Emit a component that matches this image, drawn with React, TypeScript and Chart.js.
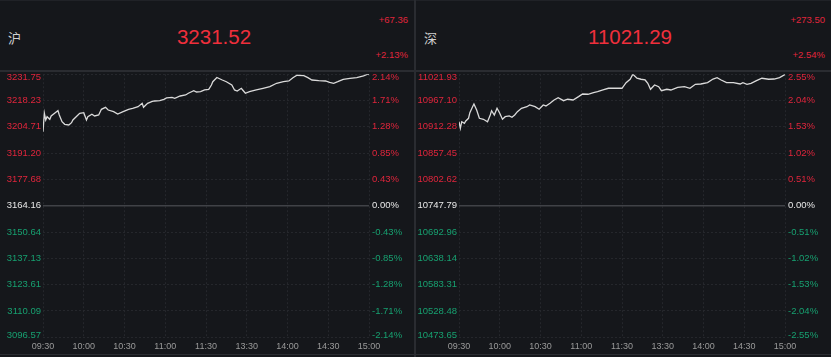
import React, { useEffect, useRef } from "react";
import { Chart, registerables } from "chart.js";
Chart.register(...registerables);

// ---- data ----
const timeLabels = ["09:30", "10:00", "10:30", "11:00", "11:30", "13:30", "14:00", "14:30", "15:00"];

const shName = "沪";
const shPrice = "3231.52";
const shChange = "+67.36";
const shChangePct = "+2.13%";
const shPrevClose = 3164.16;
const shPriceTicks = [3096.57, 3110.09, 3123.61, 3137.13, 3150.64, 3164.16, 3177.68, 3191.2, 3204.71, 3218.23, 3231.75];
const shPctTicks = ["-2.14%", "-1.71%", "-1.28%", "-0.85%", "-0.43%", "0.00%", "0.43%", "0.85%", "1.28%", "1.71%", "2.14%"];
const shMinutes = [0, 1, 2, 3, 5, 6, 9, 11, 12, 14, 16, 19, 21, 22, 25, 27, 30, 32, 33, 36, 38, 41, 43, 46, 48, 52, 55, 59, 63, 66, 70, 73, 74, 77, 80, 82, 86, 89, 91, 95, 97, 101, 105, 107, 111, 113, 116, 119, 122, 124, 125, 128, 132, 135, 139, 141, 143, 146, 147, 149, 152, 157, 162, 167, 172, 177, 181, 184, 187, 192, 195, 198, 203, 208, 211, 214, 217, 221, 226, 231, 236, 239, 240];
const shValues = [3202.2, 3211.66, 3208.22, 3209.91, 3208.57, 3210.27, 3211.96, 3213.0, 3210.78, 3207.34, 3206.0, 3205.64, 3206.82, 3208.22, 3210.27, 3211.66, 3211.96, 3208.22, 3209.91, 3211.14, 3210.27, 3210.78, 3213.71, 3214.74, 3213.35, 3212.47, 3211.29, 3212.47, 3213.71, 3214.22, 3215.05, 3216.79, 3214.74, 3216.79, 3217.62, 3217.98, 3218.13, 3218.86, 3219.53, 3219.88, 3219.37, 3220.55, 3221.06, 3221.94, 3223.27, 3222.6, 3222.76, 3223.64, 3223.99, 3226.2, 3227.89, 3230.06, 3228.77, 3227.89, 3226.2, 3223.64, 3223.11, 3224.5, 3223.64, 3221.94, 3222.76, 3223.64, 3224.5, 3225.33, 3227.08, 3227.89, 3228.26, 3229.96, 3231.2, 3231.0, 3229.96, 3228.77, 3228.41, 3228.26, 3227.59, 3227.08, 3227.89, 3229.13, 3229.64, 3229.96, 3230.9, 3231.75, 3231.52];

const szName = "深";
const szPrice = "11021.29";
const szChange = "+273.50";
const szChangePct = "+2.54%";
const szPrevClose = 10747.79;
const szPriceTicks = [10473.65, 10528.48, 10583.31, 10638.14, 10692.96, 10747.79, 10802.62, 10857.45, 10912.28, 10967.1, 11021.93];
const szPctTicks = ["-2.55%", "-2.04%", "-1.53%", "-1.02%", "-0.51%", "0.00%", "0.51%", "1.02%", "1.53%", "2.04%", "2.55%"];
const szMinutes = [0, 1, 2, 4, 5, 7, 8, 10, 11, 13, 15, 18, 21, 23, 24, 26, 28, 30, 32, 34, 37, 39, 41, 43, 46, 50, 52, 56, 59, 62, 64, 67, 70, 73, 77, 80, 84, 88, 91, 95, 99, 102, 106, 110, 115, 120, 123, 126, 128, 131, 134, 137, 139, 141, 144, 147, 149, 153, 156, 161, 166, 170, 174, 178, 183, 187, 190, 193, 197, 202, 207, 209, 212, 215, 219, 223, 228, 232, 236, 240];
const szValues = [10922.9, 10909.2, 10922.9, 10919.6, 10924.4, 10930.0, 10941.7, 10954.2, 10959.8, 10947.3, 10930.0, 10928.0, 10922.9, 10936.9, 10945.9, 10936.9, 10950.9, 10940.4, 10928.0, 10933.4, 10934.9, 10932.1, 10936.9, 10943.8, 10950.9, 10954.2, 10957.8, 10954.2, 10948.8, 10957.8, 10955.7, 10961.3, 10968.2, 10973.0, 10966.7, 10969.7, 10968.2, 10975.1, 10980.7, 10980.1, 10983.4, 10985.5, 10989.0, 10992.6, 10992.6, 10992.6, 11004.3, 11011.4, 11021.93, 11013.5, 11011.4, 11009.9, 11003.0, 10990.5, 10999.5, 10995.9, 10987.6, 10990.5, 10989.0, 10994.6, 10995.9, 10992.6, 11000.9, 11001.5, 11004.3, 11011.9, 11014.7, 11009.9, 11004.3, 11004.3, 11001.5, 11004.3, 11000.9, 11003.0, 11008.4, 11013.5, 11011.4, 11011.9, 11014.7, 11021.29];

// ---- style ----
const BG = "#15171b";
const SEP = "#2a2c31";
const GRID = "#25272c";
const ZERO_LINE = "#404247";
const RED = "#e0253c";
const HEAD_RED = "#ef2f3c";
const GREEN = "#17a070";
const WHITE = "#e8e8e8";
const FONT = '"Liberation Sans", Arial, Helvetica, sans-serif';

const axisLabelPlugin = {
  id: "axisLabels",
  beforeDatasetsDraw(chart: any, _args: any, opts: any) {
    const { ctx, chartArea } = chart;
    const y = chart.scales.y.getPixelForValue(opts.prevClose);
    ctx.save();
    ctx.strokeStyle = ZERO_LINE;
    ctx.lineWidth = 1.5;
    ctx.beginPath();
    ctx.moveTo(chartArea.left, y);
    ctx.lineTo(chartArea.right, y);
    ctx.stroke();
    ctx.restore();
  },
  afterDraw(chart: any, _args: any, opts: any) {
    const { ctx, chartArea } = chart;
    const ys = chart.scales.y;
    const ticks: number[] = opts.priceTicks;
    const pct: string[] = opts.pctTicks;
    const zeroIdx = ticks.indexOf(opts.prevClose);
    ctx.save();
    ctx.font = `9.5px ${FONT}`;
    ctx.textBaseline = "middle";
    ticks.forEach((v, i) => {
      let py = ys.getPixelForValue(v);
      if (i === ticks.length - 1) py += 3;
      if (i === 0) py -= 2;
      ctx.fillStyle = i < zeroIdx ? GREEN : i === zeroIdx ? WHITE : RED;
      ctx.textAlign = "right";
      ctx.fillText(v.toFixed(2), chartArea.left - 2, py);
      ctx.textAlign = "left";
      ctx.fillText(pct[i], chartArea.right + 3, py);
    });
    ctx.restore();
  },
};

type PanelProps = {
  left: number;
  width: number;
  name: string;
  price: string;
  change: string;
  changePct: string;
  prevClose: number;
  priceTicks: number[];
  pctTicks: string[];
  minutes: number[];
  values: number[];
};

function Panel(p: PanelProps) {
  const ref = useRef<HTMLCanvasElement>(null);
  const canvasH = 282;
  useEffect(() => {
    if (!ref.current) return;
    const chart = new Chart(ref.current, {
      type: "line",
      data: {
        datasets: [
          {
            data: p.minutes.map((m, i) => ({ x: m, y: p.values[i] })),
            borderColor: "#dadada",
            borderWidth: 1.3,
            pointRadius: 0,
            tension: 0,
            fill: false,
          },
        ],
      },
      plugins: [axisLabelPlugin as any],
      options: {
        animation: false,
        responsive: false,
        events: [],
        layout: { padding: { top: 2.2, bottom: 0, left: 0, right: 0 } },
        plugins: {
          legend: { display: false },
          tooltip: { enabled: false },
          axisLabels: { priceTicks: p.priceTicks, pctTicks: p.pctTicks, prevClose: p.prevClose },
        } as any,
        scales: {
          x: {
            type: "linear",
            min: 0,
            max: 240,
            afterBuildTicks: (s: any) => {
              s.ticks = timeLabels.map((_, i) => ({ value: i * 30 }));
            },
            afterFit: (s: any) => {
              s.height = 16.8;
            },
            ticks: {
              autoSkip: false,
              maxRotation: 0,
              padding: 4,
              color: "#9a9a9a",
              font: { size: 9, family: FONT },
              callback: (_v: any, i: number) => timeLabels[i],
            },
            grid: { color: GRID, lineWidth: 1, drawTicks: false },
            border: { display: false, dash: [2, 2] },
          },
          y: {
            type: "linear",
            position: "left",
            min: p.priceTicks[0],
            max: p.priceTicks[p.priceTicks.length - 1],
            afterBuildTicks: (s: any) => {
              s.ticks = p.priceTicks.map((v) => ({ value: v }));
            },
            afterFit: (s: any) => {
              s.width = 43;
            },
            ticks: { display: false },
            grid: {
              color: (c: any) => (c.index === p.priceTicks.indexOf(p.prevClose) ? "rgba(0,0,0,0)" : GRID),
              lineWidth: 1,
              drawTicks: false,
            },
            border: { display: false, dash: [2, 2] },
          },
          y2: {
            type: "linear",
            position: "right",
            min: -1,
            max: 1,
            afterFit: (s: any) => {
              s.width = p.width - 369;
            },
            ticks: { display: false },
            grid: { display: false, drawTicks: false },
            border: { display: false },
          },
        },
      } as any,
    });
    return () => chart.destroy();
  }, []);

  return (
    <div style={{ position: "absolute", left: p.left, top: 0, width: p.width, height: 357 }}>
      <div
        style={{
          position: "absolute",
          left: 8,
          top: 37,
          transform: "translateY(-50%)",
          color: "#d0d0d0",
          fontSize: 13,
          fontFamily: '"Noto Sans CJK SC", sans-serif',
          lineHeight: 1,
        }}
      >
        {p.name}
      </div>
      <div
        style={{
          position: "absolute",
          left: 214,
          top: 37,
          transform: "translate(-50%, -50%)",
          color: HEAD_RED,
          fontSize: 20.5,
          fontFamily: FONT,
          lineHeight: 1,
          whiteSpace: "nowrap",
        }}
      >
        {p.price}
      </div>
      <div
        style={{
          position: "absolute",
          right: 6,
          top: 19.5,
          transform: "translateY(-50%)",
          color: RED,
          fontSize: 9.5,
          fontFamily: FONT,
          lineHeight: 1,
        }}
      >
        {p.change}
      </div>
      <div
        style={{
          position: "absolute",
          right: 6,
          top: 55,
          transform: "translateY(-50%)",
          color: RED,
          fontSize: 9.5,
          fontFamily: FONT,
          lineHeight: 1,
        }}
      >
        {p.changePct}
      </div>
      <div style={{ position: "absolute", left: 0, top: 70, width: p.width, height: 2, background: SEP }} />
      <canvas
        ref={ref}
        width={p.width}
        height={canvasH}
        style={{ position: "absolute", left: 0, top: 72, width: p.width, height: canvasH, display: "block" }}
      />
      <div style={{ position: "absolute", left: 0, top: 354, width: p.width, height: 1, background: SEP }} />
    </div>
  );
}

export default function App() {
  return (
    <div
      style={{
        position: "fixed",
        left: 0,
        top: 0,
        width: 831,
        height: 357,
        background: BG,
        overflow: "hidden",
      }}
    >
      <div style={{ position: "absolute", left: 0, top: 0, width: 831, height: 1, background: "#202227" }} />
      <Panel
        left={0}
        width={414}
        name={shName}
        price={shPrice}
        change={shChange}
        changePct={shChangePct}
        prevClose={shPrevClose}
        priceTicks={shPriceTicks}
        pctTicks={shPctTicks}
        minutes={shMinutes}
        values={shValues}
      />
      <div style={{ position: "absolute", left: 414, top: 0, width: 2, height: 357, background: SEP }} />
      <Panel
        left={416}
        width={415}
        name={szName}
        price={szPrice}
        change={szChange}
        changePct={szChangePct}
        prevClose={szPrevClose}
        priceTicks={szPriceTicks}
        pctTicks={szPctTicks}
        minutes={szMinutes}
        values={szValues}
      />
    </div>
  );
}
